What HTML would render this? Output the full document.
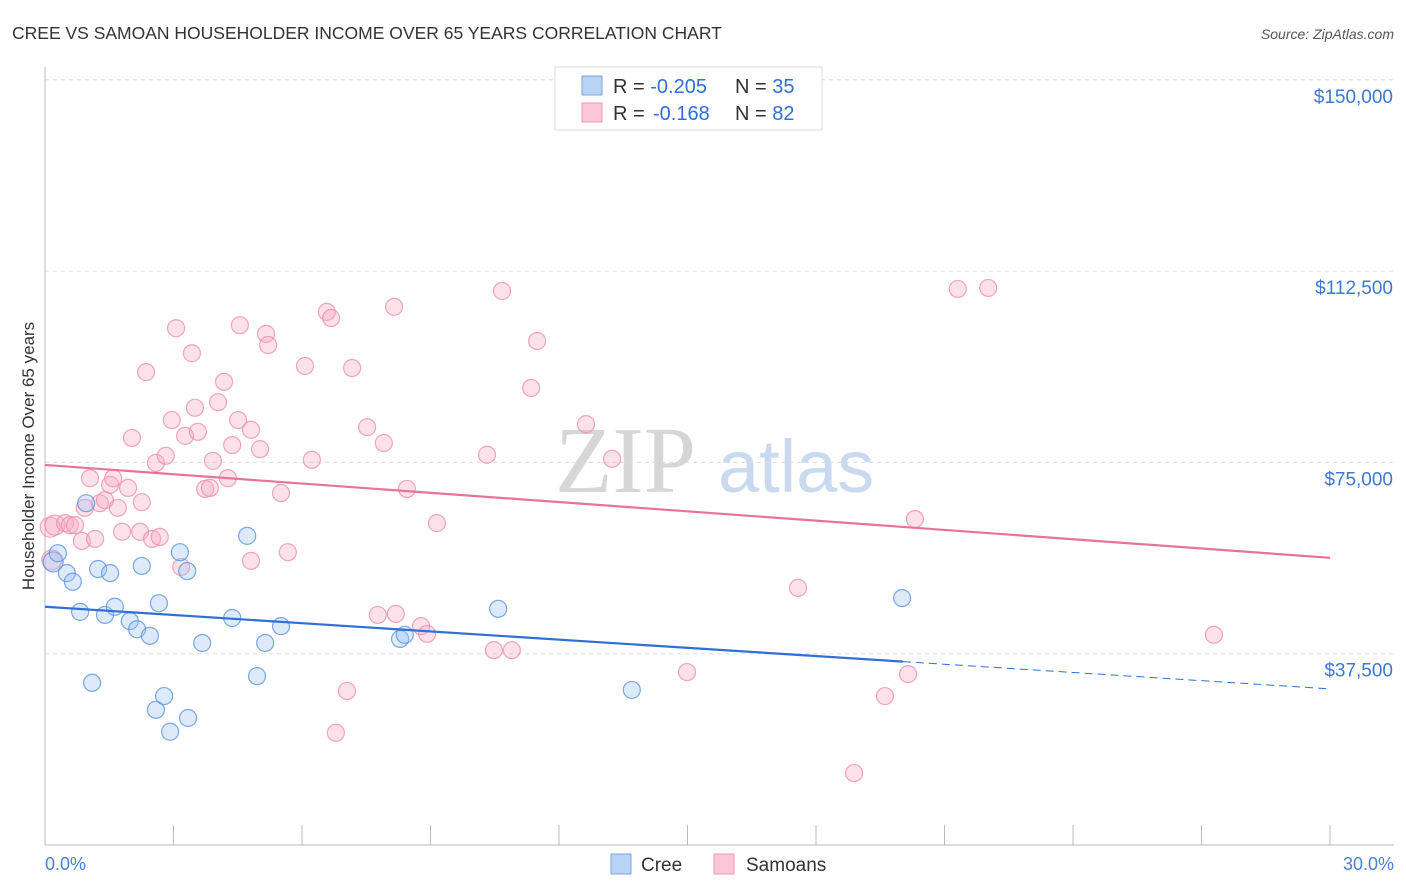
<!DOCTYPE html>
<html><head><meta charset="utf-8">
<style>
body{margin:0;background:#fff;font-family:"Liberation Sans",sans-serif;}
svg{display:block}
</style></head><body>
<svg id="chart" width="1406" height="892" xmlns="http://www.w3.org/2000/svg">
<text x="12" y="39" font-size="17.5" fill="#333">CREE VS SAMOAN HOUSEHOLDER INCOME OVER 65 YEARS CORRELATION CHART</text>
<text x="1394" y="39" font-size="14" fill="#555" text-anchor="end" font-style="italic">Source: ZipAtlas.com</text>
<g>
<text x="555" y="492" font-size="94" fill="#d6d6d6" font-family="Liberation Serif,serif">ZIP</text>
<text x="718" y="492" font-size="74" fill="#c9daf0">atlas</text>
</g>
<g id="grid"></g>
<g id="marks"></g>
<text transform="translate(34,456) rotate(-90)" font-size="17" fill="#333" text-anchor="middle">Householder Income Over 65 years</text>
<text x="45" y="870" font-size="18" fill="#4a7fd4">0.0%</text>
<text x="1394" y="870" font-size="18" fill="#4a7fd4" text-anchor="end">30.0%</text>
<g>
<rect x="555" y="67" width="267" height="63" fill="#fff" stroke="#ddd"/>
<rect x="582" y="76" width="20" height="19" fill="#b9d3f5" stroke="#7aa5e3"/>
<rect x="582" y="103" width="20" height="19" fill="#fbc7d6" stroke="#ee9ab4"/>
<text x="613" y="93" font-size="20" fill="#333">R = <tspan fill="#2f6fd6">-0.205</tspan><tspan x="735">N = </tspan><tspan fill="#2f6fd6">35</tspan></text>
<text x="613" y="120" font-size="20" fill="#333">R = <tspan fill="#2f6fd6" x="653">-0.168</tspan><tspan x="735">N = </tspan><tspan fill="#2f6fd6">82</tspan></text>
</g>
<g>
<rect x="611" y="854" width="20" height="20" fill="#b9d3f5" stroke="#7aa5e3"/>
<text x="641" y="871" font-size="19" fill="#333">Cree</text>
<rect x="714" y="854" width="20" height="20" fill="#fbc7d6" stroke="#ee9ab4"/>
<text x="746" y="871" font-size="19" fill="#333">Samoans</text>
</g>
</svg>
<script>
const yTicks=[37500,75000,112500,150000];
const yTickLabels=["$37,500","$75,000","$112,500","$150,000"];
const xTicks=[0,3,6,9,12,15,18,21,24,27,30];
const creeX=[0.19,0.30,0.51,0.65,0.82,0.96,1.10,1.24,1.40,1.52,1.63,1.98,2.15,2.26,2.45,2.59,2.66,2.78,2.92,3.15,3.32,3.34,3.67,4.37,4.72,4.95,5.14,5.51,8.29,8.40,10.58,13.70,20.01];
const creeY=[55.5,57.2,53.3,51.6,45.7,67.0,31.8,54.1,45.1,53.3,46.7,43.9,42.3,54.7,41.0,26.5,47.4,29.2,22.2,57.4,53.7,24.9,39.6,44.5,60.6,33.1,39.6,42.9,40.4,41.2,46.3,30.4,48.4];
const samX=[0.12,0.23,0.16,0.47,0.58,0.70,0.93,0.86,1.05,1.17,1.28,1.40,1.52,1.59,1.70,1.80,1.94,2.03,2.22,2.26,2.36,2.50,2.59,2.68,2.82,2.96,3.06,3.18,3.27,3.43,3.50,3.57,3.74,3.85,3.92,4.04,4.18,4.27,4.51,4.55,4.37,4.81,5.02,5.16,5.21,4.81,5.51,5.67,6.07,6.23,6.58,6.68,7.05,7.17,7.52,7.77,7.91,8.15,8.19,8.45,8.78,8.92,9.15,10.32,10.48,10.67,10.90,11.35,11.49,12.63,13.24,14.99,17.58,18.89,19.61,20.15,20.31,21.31,22.02,27.29,6.79];
const samY=[62.3,62.7,55.9,63.1,62.7,62.7,66.1,59.6,71.9,60.0,67.0,67.6,70.6,71.9,66.1,61.4,70.0,79.8,61.4,67.2,92.7,60.0,74.9,60.4,76.3,83.3,101.3,54.5,80.2,96.4,85.7,81.0,69.8,70.0,75.3,86.8,90.8,71.9,83.3,101.9,78.4,81.4,77.6,100.2,98.0,55.7,69.0,57.4,93.9,75.5,104.5,103.3,30.2,93.5,81.9,45.1,78.8,105.5,45.3,69.8,42.9,41.4,63.1,76.5,38.2,108.6,38.2,89.6,98.8,82.5,75.7,33.9,50.4,14.1,29.2,33.5,63.9,109.0,109.2,41.2,22.0];
const creeTrend=[46.7,30.6]; const creeSolidEnd=20.03;
const samTrend=[74.5,56.3];
const NS="http://www.w3.org/2000/svg";
function sx(v){return 45+v/30*1285;}
function sy(v){return 845-v/37.5*191.3;}
function mk(tag,attrs,parent){const e=document.createElementNS(NS,tag);for(const k in attrs)e.setAttribute(k,attrs[k]);parent.appendChild(e);return e;}
const grid=document.getElementById('grid'),marks=document.getElementById('marks');
yTicks.forEach((t,i)=>{
 const y=sy(t/1000);
 const l=mk('line',{x1:45,x2:1394,y1:y,y2:y,stroke:'#ddd','stroke-dasharray':'4,4'},grid);
 
 
 const tx=mk('text',{x:1393,y:y+23,'font-size':19,fill:'#3f78d0','text-anchor':'end'},grid);
 tx.textContent=yTickLabels[i];
 
 
});
const ax=mk('line',{x1:45,x2:45,y1:67,y2:845,stroke:'#bbb'},grid);


const bx=mk('line',{x1:45,x2:1394,y1:845,y2:845,stroke:'#bbb'},grid);


xTicks.forEach(t=>{
 const tk=mk('line',{x1:sx(t),x2:sx(t),y1:825,y2:845,stroke:'#bbb'},grid);
 
 
});
function pts(X,Y,fill,stroke,name){
 X.forEach((x,i)=>{
  const big=x<0.25;
  const c=mk('circle',{cx:sx(x),cy:sy(Y[i]),r:big?10:8.5,fill:fill,'fill-opacity':0.35,stroke:stroke,'stroke-opacity':0.8,'stroke-width':1.2},marks);
  
  
 });
}
pts(samX,samY,'#f6a8bf','#ee90ad','samoan-point');
pts(creeX,creeY,'#9cc2f2','#5b93e0','cree-point');
function lerp(a,b,x){return a+(b-a)*x/30;}
const l1=mk('line',{x1:sx(0),y1:sy(samTrend[0]),x2:sx(30),y2:sy(samTrend[1]),stroke:'#e8739a','stroke-width':2.2},marks);


const l2=mk('line',{x1:sx(0),y1:sy(creeTrend[0]),x2:sx(creeSolidEnd),y2:sy(lerp(creeTrend[0],creeTrend[1],creeSolidEnd)),stroke:'#2f6fd6','stroke-width':2.2},marks);


const l3=mk('line',{x1:sx(creeSolidEnd),y1:sy(lerp(creeTrend[0],creeTrend[1],creeSolidEnd)),x2:sx(30),y2:sy(creeTrend[1]),stroke:'#2f6fd6','stroke-width':1,'stroke-dasharray':'8,5'},marks);


</script>
</body></html>
